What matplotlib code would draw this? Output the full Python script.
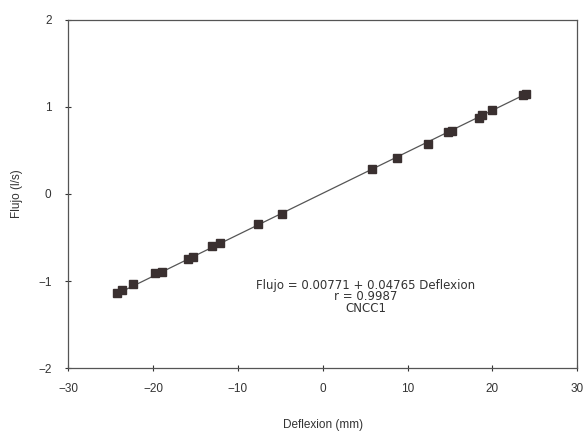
import numpy as np
import matplotlib
matplotlib.use("Agg")
import matplotlib.pyplot as plt

plt.rcParams['font.family'] = ['Liberation Sans', 'DejaVu Sans']

# readings
deflexion = [-24.2, -23.6, -22.4, -19.8, -19.0, -15.9, -15.3, -13.1, -12.1, -7.6,
             -4.8, 5.8, 8.8, 12.4, 14.8, 15.3, 18.4, 18.8, 20.0, 23.6, 24.0]
flujo = [-1.14, -1.10, -1.03, -0.91, -0.90, -0.75, -0.72, -0.60, -0.56, -0.35,
         -0.23, 0.29, 0.41, 0.57, 0.71, 0.72, 0.87, 0.91, 0.97, 1.14, 1.15]
a, b = 0.00771, 0.04765
xticks = [-30, -20, -10, 0, 10, 20, 30]
yticks = [-2, -1, 0, 1, 2]

fig = plt.figure(figsize=(5.83, 4.33), dpi=100)
ax = fig.add_axes([0.117, 0.150, 0.873, 0.804])

xl = np.array([min(deflexion), max(deflexion)])
ax.plot(xl, a + b * xl, color='#555555', lw=0.9, zorder=2)
ax.plot(deflexion, flujo, linestyle='none', marker='s', ms=5.5,
        color='#3a3030', zorder=3)

ax.set_xlim(-30, 30)
ax.set_ylim(-2, 2)
ax.set_xticks(xticks)
ax.set_yticks(yticks)
ax.tick_params(direction='inout', length=4, width=0.8, labelsize=8.5, colors='#333333')
ax.tick_params(axis='x', pad=9)
ax.tick_params(axis='y', pad=10)
for s in ax.spines.values():
    s.set_color('#555555')
    s.set_linewidth(0.9)

ax.set_xlabel("Deflexion (mm)", fontsize=8.5, color='#333333', labelpad=17)
ax.set_ylabel("Flujo (l/s)", fontsize=8.5, color='#333333', labelpad=11)

ax.text(5.1, -1.18, "Flujo = 0.00771 + 0.04765 Deflexion\nr = 0.9987\nCNCC1",
        ha='center', va='center', fontsize=8.5, color='#333333',
        family='DejaVu Sans', linespacing=0.85, multialignment='center')

fig.savefig("out.png", dpi=100)
